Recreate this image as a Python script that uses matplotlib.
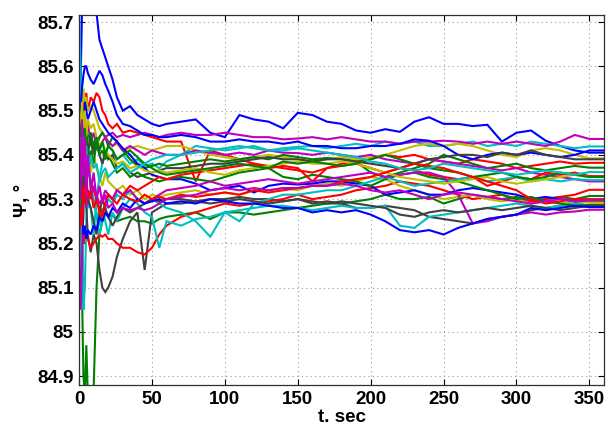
import matplotlib
matplotlib.use("Agg")
import matplotlib.pyplot as plt

t = [0, 1, 2, 3, 4, 5, 6,
     8, 10, 12, 14, 16, 18, 20,
     23, 26, 30, 35, 40, 45, 50, 55, 60,
     70, 80, 90, 100, 110, 120, 130, 140, 150, 160,
     170, 180, 190, 200, 210, 220, 230, 240, 250, 260,
     270, 280, 290, 300, 310, 320, 330, 340, 350,
     360]

blue_1 = [85.30, 85.55, 85.72, 85.80, 85.85, 85.82, 85.80,
          85.78, 85.74, 85.72, 85.66, 85.64, 85.62, 85.60,
          85.57, 85.53, 85.50, 85.51, 85.49, 85.48, 85.47, 85.465, 85.47,
          85.475, 85.48, 85.45, 85.44, 85.49, 85.48, 85.475, 85.46, 85.495, 85.49,
          85.475, 85.47, 85.455, 85.45, 85.458, 85.452, 85.475, 85.485, 85.47, 85.47,
          85.465, 85.468, 85.43, 85.45, 85.455, 85.432, 85.42, 85.41, 85.405,
          85.405]
blue_2 = [85.45, 85.50, 85.55, 85.58, 85.60, 85.60, 85.585,
          85.57, 85.56, 85.575, 85.59, 85.58, 85.56, 85.545,
          85.52, 85.49, 85.47, 85.465, 85.455, 85.445, 85.445, 85.44, 85.44,
          85.445, 85.44, 85.43, 85.43, 85.435, 85.43, 85.43, 85.425, 85.43, 85.42,
          85.42, 85.415, 85.415, 85.42, 85.42, 85.425, 85.435, 85.432, 85.42, 85.40,
          85.39, 85.40, 85.405, 85.40, 85.405, 85.40, 85.395, 85.40, 85.41,
          85.41]
blue_3 = [85.35, 85.45, 85.50, 85.48, 85.52, 85.50, 85.48,
          85.50, 85.52, 85.50, 85.48, 85.47, 85.46, 85.45,
          85.44, 85.43, 85.415, 85.40, 85.38, 85.37, 85.355, 85.35, 85.345,
          85.345, 85.335, 85.32, 85.325, 85.33, 85.315, 85.33, 85.335, 85.333, 85.335,
          85.34, 85.34, 85.335, 85.33, 85.31, 85.315, 85.32, 85.31, 85.31, 85.32,
          85.325, 85.32, 85.315, 85.31, 85.30, 85.305, 85.30, 85.295, 85.298,
          85.298]
blue_4 = [85.30, 85.25, 85.28, 85.22, 85.24, 85.21, 85.23,
          85.22, 85.24, 85.23, 85.26, 85.25, 85.27, 85.26,
          85.28, 85.27, 85.29, 85.28, 85.30, 85.29, 85.295, 85.30, 85.29,
          85.295, 85.29, 85.30, 85.295, 85.29, 85.29, 85.285, 85.28, 85.28, 85.27,
          85.275, 85.27, 85.275, 85.265, 85.25, 85.23, 85.225, 85.23, 85.22, 85.235,
          85.245, 85.255, 85.26, 85.265, 85.28, 85.275, 85.28, 85.285, 85.282,
          85.282]

green_1 = [85.70, 85.40, 85.10, 84.90, 84.86, 84.97, 84.86,
           84.86, 84.87, 85.10, 85.22, 85.25, 85.27, 85.26,
           85.265, 85.25, 85.255, 85.26, 85.25, 85.25, 85.245, 85.255, 85.26,
           85.265, 85.27, 85.255, 85.27, 85.27, 85.265, 85.27, 85.275, 85.28, 85.285,
           85.29, 85.29, 85.295, 85.30, 85.31, 85.30, 85.30, 85.305, 85.29, 85.30,
           85.31, 85.305, 85.30, 85.305, 85.295, 85.30, 85.305, 85.30, 85.307,
           85.307]
green_2 = [85.40, 85.46, 85.42, 85.47, 85.44, 85.45, 85.41,
           85.43, 85.40, 85.42, 85.44, 85.45, 85.44, 85.42,
           85.44, 85.43, 85.41, 85.39, 85.375, 85.37, 85.375, 85.38, 85.375,
           85.38, 85.385, 85.39, 85.385, 85.39, 85.395, 85.39, 85.40, 85.395, 85.39,
           85.393, 85.39, 85.385, 85.36, 85.35, 85.36, 85.37, 85.38, 85.40, 85.39,
           85.38, 85.37, 85.375, 85.38, 85.37, 85.365, 85.37, 85.375, 85.371,
           85.371]
green_3 = [85.30, 85.38, 85.33, 85.40, 85.36, 85.42, 85.38,
           85.41, 85.38, 85.43, 85.40, 85.41, 85.39, 85.40,
           85.38, 85.36, 85.37, 85.35, 85.36, 85.35, 85.345, 85.34, 85.345,
           85.35, 85.345, 85.34, 85.35, 85.36, 85.365, 85.37, 85.35, 85.345, 85.355,
           85.35, 85.345, 85.34, 85.33, 85.345, 85.355, 85.36, 85.35, 85.345, 85.34,
           85.33, 85.32, 85.31, 85.30, 85.305, 85.295, 85.29, 85.285, 85.287,
           85.287]
green_4 = [85.48, 85.44, 85.47, 85.43, 85.46, 85.40, 85.44,
           85.45, 85.42, 85.44, 85.41, 85.43, 85.40, 85.42,
           85.41, 85.39, 85.40, 85.41, 85.395, 85.38, 85.37, 85.36, 85.355,
           85.36, 85.365, 85.37, 85.375, 85.38, 85.375, 85.37, 85.385, 85.38, 85.385,
           85.38, 85.375, 85.38, 85.39, 85.40, 85.39, 85.38, 85.37, 85.365, 85.36,
           85.35, 85.355, 85.36, 85.35, 85.345, 85.35, 85.36, 85.355, 85.35,
           85.35]

red_1 = [85.40, 85.50, 85.53, 85.49, 85.52, 85.54, 85.50,
         85.53, 85.52, 85.54, 85.53, 85.50, 85.49, 85.47,
         85.46, 85.47, 85.45, 85.455, 85.45, 85.445, 85.44, 85.435, 85.43,
         85.43, 85.34, 85.41, 85.40, 85.39, 85.38, 85.375, 85.37, 85.365, 85.36,
         85.37, 85.38, 85.385, 85.39, 85.40, 85.395, 85.40, 85.39, 85.385, 85.38,
         85.39, 85.385, 85.38, 85.37, 85.375, 85.38, 85.385, 85.38, 85.382,
         85.382]
red_2 = [85.25, 85.22, 85.30, 85.20, 85.23, 85.22, 85.21,
         85.19, 85.20, 85.21, 85.22, 85.215, 85.22, 85.21,
         85.21, 85.20, 85.19, 85.19, 85.18, 85.175, 85.19, 85.22, 85.24,
         85.26, 85.27, 85.28, 85.29, 85.285, 85.29, 85.295, 85.30, 85.31, 85.30,
         85.305, 85.31, 85.32, 85.325, 85.33, 85.34, 85.335, 85.33, 85.32, 85.31,
         85.30, 85.305, 85.31, 85.30, 85.295, 85.30, 85.305, 85.31, 85.321,
         85.321]
red_3 = [85.45, 85.38, 85.42, 85.35, 85.40, 85.36, 85.38,
         85.34, 85.32, 85.30, 85.28, 85.27, 85.29, 85.31,
         85.30, 85.32, 85.31, 85.33, 85.32, 85.33, 85.34, 85.35, 85.345,
         85.355, 85.36, 85.365, 85.37, 85.375, 85.38, 85.37, 85.375, 85.37, 85.34,
         85.37, 85.375, 85.38, 85.37, 85.36, 85.37, 85.365, 85.355, 85.35, 85.345,
         85.35, 85.33, 85.34, 85.35, 85.345, 85.36, 85.355, 85.36, 85.352,
         85.352]
red_4 = [85.20, 85.28, 85.24, 85.33, 85.29, 85.35, 85.30,
         85.32, 85.28, 85.30, 85.27, 85.26, 85.29, 85.31,
         85.30, 85.29, 85.31, 85.30, 85.295, 85.31, 85.30, 85.305, 85.30,
         85.31, 85.305, 85.31, 85.315, 85.31, 85.32, 85.315, 85.32, 85.325, 85.33,
         85.33, 85.34, 85.345, 85.35, 85.36, 85.37, 85.38, 85.375, 85.37, 85.36,
         85.35, 85.34, 85.33, 85.32, 85.30, 85.29, 85.295, 85.30, 85.30,
         85.30]

cyan_1 = [85.72, 85.60, 85.35, 85.05, 85.10, 85.25, 85.30,
          85.28, 85.22, 85.30, 85.35, 85.38, 85.40, 85.42,
          85.41, 85.39, 85.40, 85.38, 85.39, 85.375, 85.38, 85.37, 85.385,
          85.40, 85.42, 85.415, 85.41, 85.415, 85.42, 85.41, 85.415, 85.418, 85.42,
          85.415, 85.42, 85.425, 85.42, 85.43, 85.425, 85.43, 85.42, 85.42, 85.425,
          85.43, 85.42, 85.425, 85.42, 85.43, 85.425, 85.42, 85.415, 85.419,
          85.419]
cyan_2 = [85.10, 85.20, 85.30, 85.25, 85.35, 85.30, 85.28,
          85.32, 85.30, 85.27, 85.24, 85.28, 85.25, 85.22,
          85.27, 85.25, 85.28, 85.30, 85.29, 85.27, 85.26, 85.19, 85.25,
          85.24, 85.255, 85.26, 85.27, 85.275, 85.28, 85.285, 85.285, 85.28, 85.275,
          85.28, 85.285, 85.28, 85.28, 85.285, 85.24, 85.235, 85.26, 85.265, 85.27,
          85.275, 85.28, 85.285, 85.29, 85.285, 85.28, 85.285, 85.29, 85.285,
          85.285]
cyan_3 = [85.50, 85.42, 85.46, 85.38, 85.44, 85.36, 85.40,
          85.33, 85.30, 85.26, 85.22, 85.25, 85.28, 85.30,
          85.29, 85.31, 85.30, 85.32, 85.30, 85.29, 85.30, 85.29, 85.28,
          85.27, 85.25, 85.215, 85.27, 85.25, 85.29, 85.30, 85.31, 85.31, 85.315,
          85.32, 85.32, 85.33, 85.34, 85.35, 85.34, 85.33, 85.335, 85.34, 85.345,
          85.35, 85.34, 85.345, 85.35, 85.34, 85.345, 85.34, 85.345, 85.343,
          85.343]
cyan_4 = [85.30, 85.40, 85.36, 85.44, 85.38, 85.42, 85.35,
          85.40, 85.37, 85.38, 85.34, 85.36, 85.37, 85.35,
          85.36, 85.37, 85.38, 85.36, 85.37, 85.38, 85.39, 85.395, 85.40,
          85.40, 85.405, 85.41, 85.415, 85.42, 85.415, 85.41, 85.41, 85.415, 85.41,
          85.405, 85.40, 85.395, 85.385, 85.38, 85.37, 85.365, 85.37, 85.38, 85.375,
          85.37, 85.365, 85.36, 85.355, 85.36, 85.365, 85.36, 85.355, 85.361,
          85.361]

magenta_1 = [85.40, 85.48, 85.45, 85.49, 85.46, 85.44, 85.47,
             85.43, 85.45, 85.42, 85.44, 85.45, 85.44, 85.445,
             85.45, 85.44, 85.445, 85.44, 85.445, 85.45, 85.445, 85.44, 85.445,
             85.45, 85.445, 85.445, 85.45, 85.445, 85.44, 85.44, 85.435, 85.437, 85.44,
             85.435, 85.44, 85.435, 85.43, 85.43, 85.425, 85.43, 85.43, 85.432, 85.43,
             85.425, 85.43, 85.425, 85.43, 85.425, 85.42, 85.43, 85.445, 85.436,
             85.436]
magenta_2 = [85.35, 85.42, 85.38, 85.45, 85.40, 85.43, 85.39,
             85.38, 85.40, 85.42, 85.41, 85.43, 85.44, 85.43,
             85.42, 85.43, 85.41, 85.42, 85.41, 85.40, 85.41, 85.405, 85.40,
             85.40, 85.41, 85.405, 85.40, 85.405, 85.40, 85.41, 85.405, 85.404, 85.40,
             85.405, 85.40, 85.395, 85.40, 85.39, 85.385, 85.38, 85.39, 85.385, 85.38,
             85.375, 85.37, 85.365, 85.37, 85.36, 85.355, 85.35, 85.345, 85.34,
             85.34]
magenta_3 = [85.20, 85.05, 85.15, 85.30, 85.35, 85.28, 85.32,
             85.30, 85.33, 85.31, 85.29, 85.30, 85.32, 85.31,
             85.30, 85.32, 85.31, 85.32, 85.30, 85.29, 85.30, 85.31, 85.32,
             85.325, 85.33, 85.34, 85.33, 85.335, 85.34, 85.345, 85.34, 85.335, 85.34,
             85.345, 85.35, 85.355, 85.36, 85.35, 85.355, 85.36, 85.36, 85.35, 85.31,
             85.245, 85.25, 85.26, 85.265, 85.27, 85.265, 85.27, 85.272, 85.276,
             85.276]
magenta_4 = [85.45, 85.30, 85.48, 85.35, 85.44, 85.30, 85.40,
             85.32, 85.36, 85.30, 85.33, 85.29, 85.31, 85.28,
             85.29, 85.27, 85.28, 85.275, 85.28, 85.275, 85.28, 85.29, 85.30,
             85.305, 85.31, 85.32, 85.325, 85.32, 85.325, 85.32, 85.325, 85.325, 85.33,
             85.33, 85.335, 85.33, 85.32, 85.315, 85.32, 85.31, 85.30, 85.31, 85.315,
             85.31, 85.305, 85.30, 85.295, 85.29, 85.295, 85.30, 85.295, 85.298,
             85.298]

yellow_1 = [85.35, 85.45, 85.50, 85.55, 85.52, 85.53, 85.50,
            85.51, 85.50, 85.48, 85.46, 85.45, 85.44, 85.43,
            85.42, 85.425, 85.41, 85.415, 85.42, 85.415, 85.41, 85.415, 85.42,
            85.42, 85.41, 85.40, 85.395, 85.39, 85.395, 85.40, 85.395, 85.39, 85.385,
            85.39, 85.395, 85.39, 85.395, 85.40, 85.41, 85.42, 85.425, 85.42, 85.425,
            85.42, 85.41, 85.40, 85.395, 85.41, 85.415, 85.41, 85.40, 85.392,
            85.392]
yellow_2 = [85.25, 85.30, 85.40, 85.35, 85.45, 85.38, 85.42,
            85.36, 85.40, 85.37, 85.35, 85.33, 85.36, 85.34,
            85.33, 85.32, 85.33, 85.31, 85.32, 85.30, 85.31, 85.305, 85.31,
            85.315, 85.32, 85.31, 85.315, 85.31, 85.32, 85.32, 85.325, 85.32, 85.33,
            85.335, 85.33, 85.34, 85.35, 85.345, 85.33, 85.32, 85.31, 85.30, 85.305,
            85.31, 85.30, 85.295, 85.30, 85.29, 85.295, 85.29, 85.295, 85.292,
            85.292]
yellow_3 = [85.50, 85.45, 85.52, 85.46, 85.50, 85.44, 85.48,
            85.46, 85.47, 85.44, 85.42, 85.43, 85.41, 85.40,
            85.39, 85.38, 85.385, 85.37, 85.375, 85.365, 85.36, 85.365, 85.36,
            85.365, 85.37, 85.36, 85.355, 85.365, 85.37, 85.375, 85.38, 85.385, 85.38,
            85.38, 85.385, 85.38, 85.37, 85.36, 85.35, 85.345, 85.34, 85.335, 85.34,
            85.345, 85.35, 85.34, 85.335, 85.34, 85.345, 85.35, 85.355, 85.35,
            85.35]

gray_1 = [85.45, 85.38, 85.44, 85.30, 85.36, 85.28, 85.22,
          85.18, 85.22, 85.20, 85.14, 85.10, 85.09, 85.10,
          85.125, 85.17, 85.21, 85.25, 85.27, 85.14, 85.27, 85.28, 85.29,
          85.29, 85.295, 85.30, 85.30, 85.305, 85.30, 85.30, 85.295, 85.30, 85.29,
          85.295, 85.29, 85.28, 85.28, 85.285, 85.28, 85.275, 85.26, 85.255, 85.25,
          85.245, 85.255, 85.26, 85.265, 85.275, 85.28, 85.285, 85.29, 85.295,
          85.295]
gray_2 = [85.40, 85.47, 85.42, 85.46, 85.38, 85.44, 85.40,
          85.45, 85.41, 85.43, 85.40, 85.38, 85.41, 85.39,
          85.40, 85.37, 85.38, 85.36, 85.35, 85.355, 85.36, 85.365, 85.37,
          85.37, 85.375, 85.38, 85.38, 85.385, 85.39, 85.395, 85.39, 85.39, 85.385,
          85.39, 85.39, 85.385, 85.38, 85.375, 85.37, 85.38, 85.39, 85.395, 85.40,
          85.40, 85.395, 85.405, 85.40, 85.41, 85.40, 85.395, 85.39, 85.39,
          85.39]
gray_3 = [85.30, 85.35, 85.28, 85.38, 85.32, 85.36, 85.30,
          85.28, 85.25, 85.22, 85.27, 85.30, 85.28, 85.26,
          85.24, 85.26, 85.28, 85.27, 85.28, 85.29, 85.30, 85.295, 85.30,
          85.30, 85.295, 85.29, 85.295, 85.30, 85.295, 85.29, 85.295, 85.30, 85.295,
          85.29, 85.295, 85.29, 85.285, 85.28, 85.265, 85.26, 85.27, 85.275, 85.27,
          85.275, 85.28, 85.275, 85.28, 85.285, 85.28, 85.275, 85.28, 85.285,
          85.285]

C_B = (0, 0, 1)
C_G = (0, 0.5, 0)
C_R = (1, 0, 0)
C_C = (0, 0.75, 0.75)
C_M = (0.75, 0, 0.75)
C_Y = (0.75, 0.75, 0)
C_K = (0.25, 0.25, 0.25)

series = [
    (blue_1, C_B), (green_1, C_G), (red_1, C_R), (cyan_1, C_C), (magenta_1, C_M), (yellow_1, C_Y), (gray_1, C_K),
    (blue_2, C_B), (green_2, C_G), (red_2, C_R), (cyan_2, C_C), (magenta_2, C_M), (yellow_2, C_Y), (gray_2, C_K),
    (blue_3, C_B), (green_3, C_G), (red_3, C_R), (cyan_3, C_C), (magenta_3, C_M), (yellow_3, C_Y), (gray_3, C_K),
    (blue_4, C_B), (green_4, C_G), (red_4, C_R), (cyan_4, C_C), (magenta_4, C_M),
]

yticks = [84.9, 85.0, 85.1, 85.2, 85.3, 85.4, 85.5, 85.6, 85.7]
ytick_labels = ["84.9", "85", "85.1", "85.2", "85.3", "85.4", "85.5", "85.6", "85.7"]
xticks = [0, 50, 100, 150, 200, 250, 300, 350]

plt.rcParams['font.family'] = ['Liberation Sans', 'DejaVu Sans']

fig = plt.figure(figsize=(6.08, 4.29), dpi=100)
ax = fig.add_axes([0.130, 0.1026, 0.8634, 0.8624])

for vals, col in series:
    ax.plot(t, vals, color=col, linewidth=1.5, solid_joinstyle='miter')

ax.set_xlim(0, 360)
ax.set_ylim(84.88, 85.716)
ax.set_xticks(xticks)
ax.set_yticks(yticks)
ax.set_yticklabels(ytick_labels)
ax.grid(True, linestyle=(0, (1, 3)), color='#999999', linewidth=0.8)
ax.tick_params(direction='in', top=True, right=True, length=4, labelsize=13.5, width=0.8, pad=4)
for lab in ax.get_xticklabels() + ax.get_yticklabels():
    lab.set_fontweight('bold')
for sp in ax.spines.values():
    sp.set_color('#303030')
    sp.set_linewidth(0.9)

ax.set_xlabel("t. sec", fontsize=13.5, fontweight='bold', labelpad=1)
ax.set_ylabel("Ψ, °", fontsize=13.5, fontweight='bold', labelpad=4)

fig.savefig("out.png", dpi=100)
